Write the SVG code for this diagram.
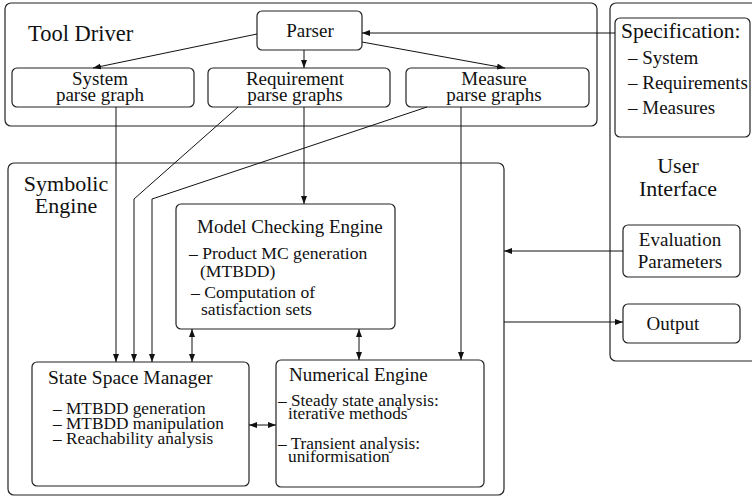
<svg xmlns="http://www.w3.org/2000/svg" width="752" height="498" viewBox="0 0 752 498">
<style>
  .box { fill: none; stroke: #222; stroke-width: 1.2; }
  text { font-family: 'Liberation Serif', 'DejaVu Serif', serif; fill: #111; }
  .big { font-size: 22px; }
  .nm { font-size: 19px; }
  .hd { font-size: 19px; }
  .it { font-size: 17.3px; }
  .mid { text-anchor: middle; }
  .ln { fill: none; stroke: #111; stroke-width: 1; }
  .a { marker-end: url(#ah); }
  .aa { marker-end: url(#ah); marker-start: url(#ah); }
</style>
<defs>
  <marker id="ah" markerUnits="userSpaceOnUse" markerWidth="9" markerHeight="7" refX="8" refY="3" orient="auto-start-reverse" viewBox="0 0 9 7">
    <path d="M0,0 L8,3 L0,6 z" fill="#111"/>
  </marker>
</defs>

<g id="tool-driver">
  <rect class="box" x="5" y="3" width="592" height="123" rx="6"/>
  <text class="big" x="28" y="41" style="font-size:22.5px">Tool Driver</text>
</g>
<g id="parser">
  <rect class="box" x="257" y="11" width="105" height="39" rx="5"/>
  <text class="nm mid" x="310" y="37">Parser</text>
</g>
<g id="system-parse-graph">
  <rect class="box" x="12" y="68" width="182" height="39" rx="5"/>
  <text class="nm mid" x="100" y="85">System</text>
  <text class="nm mid" x="100" y="101">parse graph</text>
</g>
<g id="requirement-parse-graphs">
  <rect class="box" x="208" y="68" width="182" height="39" rx="5"/>
  <text class="nm mid" x="295" y="85">Requirement</text>
  <text class="nm mid" x="295" y="101">parse graphs</text>
</g>
<g id="measure-parse-graphs">
  <rect class="box" x="406" y="68" width="183" height="39" rx="5"/>
  <text class="nm mid" x="494" y="85">Measure</text>
  <text class="nm mid" x="494" y="101">parse graphs</text>
</g>

<g id="user-interface">
  <rect class="box" x="610" y="3" width="150" height="358" rx="6"/>
  <text class="big mid" x="678" y="173">User</text>
  <text class="big mid" x="678" y="196">Interface</text>
</g>
<g id="specification">
  <rect class="box" x="615" y="18" width="135" height="119" rx="5"/>
  <text x="621" y="38" style="font-size:21.5px">Specification:</text>
  <text class="nm" x="628" y="64">– System</text>
  <text class="nm" x="628" y="89">– Requirements</text>
  <text class="nm" x="628" y="114">– Measures</text>
</g>
<g id="evaluation-parameters">
  <rect class="box" x="623" y="225" width="117" height="52" rx="5"/>
  <text class="nm mid" x="680" y="246">Evaluation</text>
  <text class="nm mid" x="680" y="268">Parameters</text>
</g>
<g id="output">
  <rect class="box" x="623" y="304" width="117" height="39" rx="5"/>
  <text class="nm mid" x="673" y="330">Output</text>
</g>

<g id="symbolic-engine">
  <rect class="box" x="8" y="163" width="496" height="332" rx="6"/>
  <text class="big mid" x="66" y="191">Symbolic</text>
  <text class="big mid" x="66" y="213">Engine</text>
</g>
<g id="model-checking-engine">
  <rect class="box" x="176" y="204" width="219" height="125" rx="5"/>
  <text class="hd" x="197" y="233">Model Checking Engine</text>
  <text class="it" x="189" y="259" style="font-size:17.6px">– Product MC generation</text>
  <text class="it" x="200" y="277" style="font-size:17.6px">(MTBDD)</text>
  <text class="it" x="191" y="298" style="font-size:17.6px">– Computation of</text>
  <text class="it" x="201" y="315" style="font-size:17.6px">satisfaction sets</text>
</g>
<g id="state-space-manager">
  <rect class="box" x="32" y="362" width="217" height="124" rx="5"/>
  <text class="hd" x="48" y="384" style="font-size:19.5px">State Space Manager</text>
  <text class="it" x="53" y="414">– MTBDD generation</text>
  <text class="it" x="53" y="429">– MTBDD manipulation</text>
  <text class="it" x="53" y="444">– Reachability analysis</text>
</g>
<g id="numerical-engine">
  <rect class="box" x="276" y="360" width="208" height="127" rx="5"/>
  <text class="hd" x="289" y="381">Numerical Engine</text>
  <text class="it" x="278" y="406">– Steady state analysis:</text>
  <text class="it" x="288" y="419">iterative methods</text>
  <text class="it" x="278" y="449">– Transient analysis:</text>
  <text class="it" x="288" y="462">uniformisation</text>
</g>

<g id="connectors">
  <path class="ln a" d="M615,33 L362,33"/>
  <path class="ln a" d="M257,34 L93,68"/>
  <path class="ln a" d="M304,50 L304,68"/>
  <path class="ln a" d="M362,42 L505,68"/>
  <path class="ln a" d="M116,107 L116,362"/>
  <path class="ln a" d="M238,107 L134,199 L134,362"/>
  <path class="ln a" d="M427,107 L152,199 L152,362"/>
  <path class="ln a" d="M304,107 L304,204"/>
  <path class="ln a" d="M461,107 L461,360"/>
  <path class="ln aa" d="M192,329 L192,362"/>
  <path class="ln aa" d="M359,329 L359,360"/>
  <path class="ln aa" d="M249,425 L276,425"/>
  <path class="ln a" d="M623,251 L504,251"/>
  <path class="ln a" d="M504,322 L623,322"/>
</g>
</svg>
